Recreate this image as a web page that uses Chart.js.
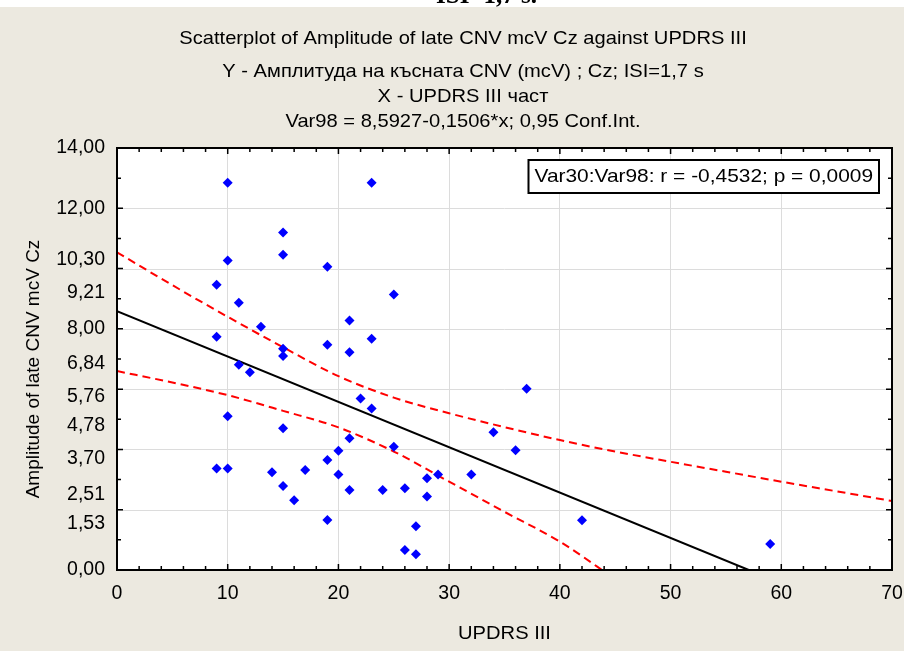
<!DOCTYPE html>
<html>
<head>
<meta charset="utf-8">
<script src="https://cdn.jsdelivr.net/npm/chart.js@4/dist/chart.umd.min.js"></script>
<style>
  html, body { margin: 0; padding: 0; background: #ECE9E0; }
  #wrap { width: 904px; height: 651px; }
</style>
</head>
<body>
<div id="wrap"><canvas id="scatter_cnv" width="904" height="651"></canvas></div>
<script>
// Datos (UPDRS III vs amplitud CNV tardia, Cz)
const updrs = [10, 23, 15, 15, 10, 19, 9, 25, 11, 21, 13, 9, 23, 19, 15, 21, 15, 11, 12, 37,
  22, 23, 10, 15, 34, 21, 25, 20, 36, 19, 9, 10, 17, 14, 20, 29, 32, 28, 15, 26,
  21, 24, 28, 16, 19, 42, 27, 59, 26, 27];
const amplitude = [12.85, 12.85, 11.20, 10.46, 10.27, 10.06, 9.46, 9.14, 8.87, 8.28, 8.07, 7.74, 7.67, 7.47, 7.34, 7.22, 7.10, 6.81, 6.56, 6.01,
  5.69, 5.36, 5.10, 4.70, 4.57, 4.37, 4.09, 3.96, 3.97, 3.65, 3.37, 3.37, 3.32, 3.24, 3.17, 3.17, 3.17, 3.04, 2.79, 2.71,
  2.65, 2.65, 2.44, 2.31, 1.66, 1.65, 1.45, 0.86, 0.66, 0.52];

// recta de regresion (extremos) y bandas de confianza 0,95
const fitX = [0, 57.06];
const fitY = [8.59, 0];
const upperX = [0, 5, 10, 15, 20, 25, 30, 35, 40, 45, 50, 55, 60, 65, 70];
const upperY = [10.54, 9.45, 8.40, 7.39, 6.43, 5.72, 5.20, 4.74, 4.31, 3.93, 3.59, 3.26, 2.93, 2.61, 2.29];
const lowerX = [0, 5, 10, 15, 20, 25, 30, 35, 40, 45];
const lowerY = [6.60, 6.22, 5.80, 5.28, 4.73, 3.93, 2.93, 1.93, 0.94, -0.30];

// ejes
const yTickValues = [0, 1.53, 2.51, 3.70, 4.78, 5.76, 6.84, 8.00, 9.21, 10.30, 12.00, 14.00];
const yGridValues = [2, 4, 6, 8, 10, 12];

// textos
const titleLines = [
  "Scatterplot of Amplitude of late CNV mcV Cz against UPDRS III",
  "Y - Амплитуда на късната CNV (mcV) ; Cz; ISI=1,7 s",
  "X - UPDRS III част",
  "Var98 = 8,5927-0,1506*x; 0,95 Conf.Int."
];
const titleY = [39, 72, 97, 122];
const xTitle = "UPDRS III";
const yTitle = "Amplitude of late CNV mcV Cz";
const corrText = "Var30:Var98: r = -0,4532; p = 0,0009";
const cropText = "ISI=1,7 s.";

const FONT = "'Liberation Sans', Arial, sans-serif";

function toPoints(xs, ys) {
  return xs.map((x, i) => ({ x: x, y: ys[i] }));
}

// texto un poco ensanchado como en el original
function wideText(ctx, txt, x, y, size, align, sx) {
  ctx.save();
  ctx.font = size + "px " + FONT;
  ctx.fillStyle = "#000";
  ctx.textBaseline = "middle";
  ctx.textAlign = align || "center";
  ctx.translate(x, y);
  ctx.scale(sx || 1.06, 1);
  ctx.fillText(txt, 0, 0);
  ctx.restore();
}

const statisticaFrame = {
  id: "statisticaFrame",
  beforeDraw(chart) {
    const ctx = chart.ctx;
    const a = chart.chartArea;
    ctx.save();
    ctx.fillStyle = "#ECE9E0";
    ctx.fillRect(0, 0, chart.width, chart.height);
    // tira blanca de arriba con texto recortado
    ctx.fillStyle = "#FFFFFF";
    ctx.fillRect(0, 0, chart.width, 7);
    ctx.beginPath();
    ctx.rect(0, 0, chart.width, 7);
    ctx.clip();
    ctx.fillStyle = "#000";
    ctx.font = "bold 25px 'Liberation Serif', serif";
    ctx.textAlign = "left";
    ctx.textBaseline = "alphabetic";
    ctx.fillText(cropText, 436, 3);
    ctx.restore();
    ctx.save();
    ctx.fillStyle = "#FFFFFF";
    ctx.fillRect(a.left, a.top, a.right - a.left, a.bottom - a.top);
    ctx.restore();
  },
  beforeDatasetsDraw(chart) {
    const ctx = chart.ctx;
    const a = chart.chartArea;
    const y = chart.scales.y;
    ctx.save();
    ctx.strokeStyle = "#DCDCDC";
    ctx.lineWidth = 1;
    yGridValues.forEach(v => {
      const py = Math.round(y.getPixelForValue(v)) + 0.5;
      ctx.beginPath();
      ctx.moveTo(a.left, py);
      ctx.lineTo(a.right, py);
      ctx.stroke();
    });
    ctx.restore();
  },
  afterDatasetsDraw(chart) {
    const ctx = chart.ctx;
    const a = chart.chartArea;
    const xs = chart.scales.x;
    const ys = chart.scales.y;
    ctx.save();
    ctx.strokeStyle = "#000";
    ctx.lineWidth = 2;
    ctx.strokeRect(a.left, a.top, a.right - a.left, a.bottom - a.top);
    // marcas hacia dentro en los cuatro lados
    ctx.lineWidth = 1.5;
    ctx.beginPath();
    for (let v = 0; v <= 70; v += 2) {
      const px = xs.getPixelForValue(v);
      const len = v % 10 === 0 ? 6 : 4;
      ctx.moveTo(px, a.bottom); ctx.lineTo(px, a.bottom - len);
      ctx.moveTo(px, a.top); ctx.lineTo(px, a.top + len);
    }
    for (let v = 0; v <= 14; v += 1) {
      const py = ys.getPixelForValue(v);
      const len = v % 2 === 0 ? 6 : 4;
      ctx.moveTo(a.left, py); ctx.lineTo(a.left + len, py);
      ctx.moveTo(a.right, py); ctx.lineTo(a.right - len, py);
    }
    ctx.stroke();

    // recuadro de correlacion
    ctx.font = "19px " + FONT;
    const tw = ctx.measureText(corrText).width * 1.1;
    const bx = a.right - 13 - tw - 12;
    const by = a.top + 12;
    ctx.fillStyle = "#FFFFFF";
    ctx.fillRect(bx, by, tw + 12, 33);
    ctx.lineWidth = 2;
    ctx.strokeRect(bx, by, tw + 12, 33);
    ctx.restore();
    wideText(ctx, corrText, bx + 6, by + 17, 19, "left", 1.1);
  },
  afterDraw(chart) {
    const ctx = chart.ctx;
    const a = chart.chartArea;
    titleLines.forEach((t, i) => wideText(ctx, t, chart.width / 2 + 11, titleY[i], 19));
    wideText(ctx, xTitle, (a.left + a.right) / 2, a.bottom + 64, 19);
    ctx.save();
    ctx.translate(34, (a.top + a.bottom) / 2 + 10);
    ctx.rotate(-Math.PI / 2);
    ctx.font = "19px " + FONT;
    ctx.fillStyle = "#000";
    ctx.textAlign = "center";
    ctx.textBaseline = "middle";
    ctx.fillText(yTitle, 0, 0);
    ctx.restore();
  }
};

const scatter_cnv = document.getElementById("scatter_cnv");

new Chart(scatter_cnv, {
  type: "scatter",
  data: {
    datasets: [
      {
        label: "Var98",
        data: toPoints(updrs, amplitude),
        pointStyle: "rectRot",
        pointRadius: 5,
        pointBackgroundColor: "#0000FF",
        pointBorderWidth: 0,
        showLine: false,
        order: 0,
      },
      {
        label: "fit",
        data: toPoints(fitX, fitY),
        showLine: true,
        borderColor: "#000000",
        borderWidth: 2,
        pointRadius: 0,
        order: 1,
      },
      {
        label: "upper",
        data: toPoints(upperX, upperY),
        showLine: true,
        borderColor: "#FF0000",
        borderWidth: 2,
        borderDash: [8, 5],
        cubicInterpolationMode: "monotone",
        pointRadius: 0,
        order: 1,
      },
      {
        label: "lower",
        data: toPoints(lowerX, lowerY),
        showLine: true,
        borderColor: "#FF0000",
        borderWidth: 2,
        borderDash: [8, 5],
        cubicInterpolationMode: "monotone",
        pointRadius: 0,
        order: 1,
      },
    ],
  },
  options: {
    responsive: false,
    animation: false,
    devicePixelRatio: 1,
    layout: { padding: { top: 148, right: 12, left: 0, bottom: 0 } },
    plugins: {
      legend: { display: false },
      tooltip: { enabled: false },
      title: { display: false },
    },
    scales: {
      x: {
        type: "linear",
        min: 0,
        max: 70,
        afterFit: (s) => { s.height = 81; s.paddingLeft = 0; s.paddingRight = 0; },
        ticks: { stepSize: 10, color: "#000", font: { family: FONT, size: 19.5 }, padding: 12, maxRotation: 0 },
        grid: { color: "#DCDCDC", lineWidth: 1, drawTicks: false },
        border: { display: false },
      },
      y: {
        type: "linear",
        min: 0,
        max: 14,
        afterFit: (s) => { s.width = 117; s.paddingTop = 0; s.paddingBottom = 0; },
        afterBuildTicks: (s) => { s.ticks = yTickValues.map(v => ({ value: v })); },
        ticks: {
          autoSkip: false,
          color: "#000",
          font: { family: FONT, size: 19.5 },
          padding: 12,
          callback: (v) => Number(v).toFixed(2).replace(".", ","),
        },
        grid: { display: false, drawTicks: false },
        border: { display: false },
      },
    },
  },
  plugins: [statisticaFrame],
});
</script>
</body>
</html>
